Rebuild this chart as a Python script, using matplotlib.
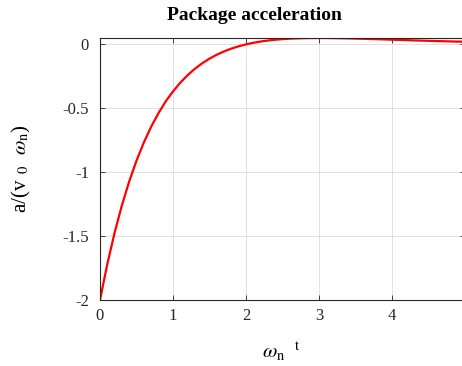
import matplotlib
matplotlib.use('Agg')
import matplotlib.pyplot as plt

# omega_n * t and normalised acceleration
wt = [0.0, 0.1, 0.2, 0.3, 0.4, 0.5, 0.6, 0.7, 0.8, 0.9,
      1.0, 1.1, 1.2, 1.3, 1.4, 1.5, 1.6, 1.7, 1.8, 1.9,
      2.0, 2.1, 2.2, 2.3, 2.4, 2.5, 2.6, 2.7, 2.8, 2.9,
      3.0, 3.1, 3.2, 3.3, 3.4, 3.5, 3.6, 3.7, 3.8, 3.9,
      4.0, 4.1, 4.2, 4.3, 4.4, 4.5, 4.6, 4.7, 4.8, 4.9, 5.0]
acc = [-2.0000, -1.7192, -1.4737, -1.2594, -1.0725, -0.9098, -0.7683, -0.6456, -0.5392, -0.4462,
       -0.3679, -0.2996, -0.2410, -0.1908, -0.1480, -0.1116, -0.0808, -0.0548, -0.0331, -0.0150,
       0.0000, 0.0122, 0.0222, 0.0301, 0.0363, 0.0410, 0.0446, 0.0470, 0.0486, 0.0495,
       0.0498, 0.0496, 0.0489, 0.0479, 0.0467, 0.0453, 0.0437, 0.0420, 0.0403, 0.0385,
       0.0366, 0.0348, 0.0330, 0.0312, 0.0295, 0.0278, 0.0261, 0.0246, 0.0230, 0.0216, 0.0202]

xticks = [0, 1, 2, 3, 4, 5]
yticks = [-2, -1.5, -1, -0.5, 0]
ytick_labels = ['-2', '-1.5', '-1', '-0.5', '0']

plt.rcParams['font.family'] = 'Liberation Serif'
plt.rcParams['mathtext.fontset'] = 'stix'

fig = plt.figure(figsize=(4.62, 3.66), dpi=100)
ax = fig.add_axes([100 / 462, 1 - 300 / 366, 365 / 462, 262 / 366])

ax.plot(wt, acc, color='red', linewidth=1.6)
ax.set_xlim(0, 5)
ax.set_ylim(-2, 0.0498)
ax.set_xticks(xticks)
ax.set_yticks(yticks)
ax.set_yticklabels(ytick_labels)
ax.grid(True, color='#dcdcdc', linewidth=0.6)
ax.set_axisbelow(True)
ax.tick_params(direction='in', top=True, right=True, length=3.5, width=0.6,
               labelsize=12, colors='#262626')
ax.tick_params(axis='y', pad=8)
ax.tick_params(axis='x', pad=6)
for s in ax.spines.values():
    s.set_linewidth(0.8)
    s.set_color('#262626')

ax.set_title('Package acceleration', fontsize=14, fontweight='bold',
             x=(254 - 100) / 365, pad=13)
ax.set_xlabel(r'$\omega_{\rm n}\ \ ^{\rm t}$', fontsize=15)
ax.xaxis.set_label_coords((281 - 100) / 365, -0.15)
ax.set_ylabel(r'a/(v$_{\ \ 0}\ \ \omega_{\rm n}$)', fontsize=15, labelpad=21)

fig.savefig('out.png', dpi=100)
